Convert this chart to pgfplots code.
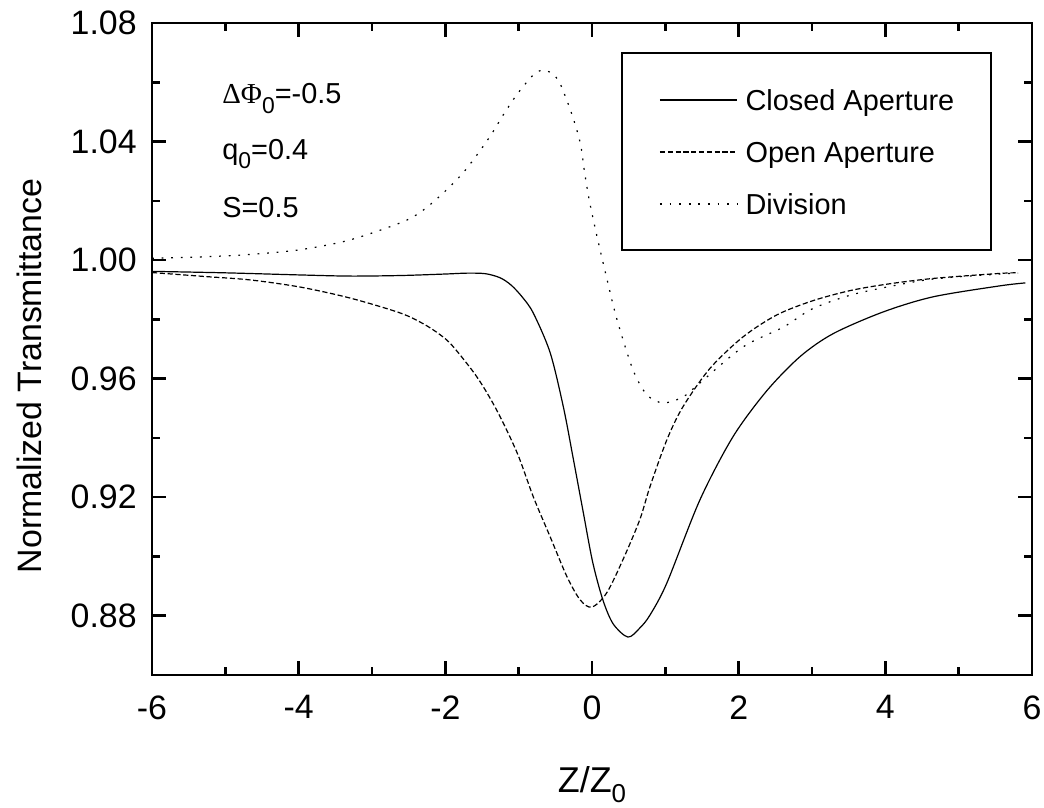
\documentclass[border=0pt]{standalone}
\usepackage{fontspec}
\setmainfont{Liberation Sans}
\newfontfamily\greekfont{Liberation Serif}
\usepackage{pgfplots}
\pgfplotsset{compat=1.18}
\usetikzlibrary{calc}

% Z/Z0 and normalized transmittance
\pgfplotstableread{
x y
-6.00 0.9962
-5.00 0.9957
-4.00 0.9950
-3.30 0.9946
-2.60 0.9948
-2.00 0.9953
-1.70 0.9956
-1.45 0.9954
-1.25 0.9940
-1.10 0.9915
-0.95 0.9875
-0.80 0.9821
-0.57 0.9687
-0.39 0.9504
-0.26 0.9336
-0.12 0.9150
0.01 0.8980
0.15 0.8852
0.29 0.8772
0.49 0.8728
0.65 0.8758
0.79 0.8802
1.02 0.8910
1.47 0.9190
1.92 0.9403
2.38 0.9558
2.84 0.9675
3.29 0.9752
3.97 0.9825
4.65 0.9876
5.56 0.9913
5.91 0.9923
}\closedap

\pgfplotstableread{
x y
-6.00 0.9958
-5.30 0.9945
-4.66 0.9933
-3.98 0.9909
-3.30 0.9872
-2.62 0.9822
-2.30 0.9785
-2.07 0.9748
-1.90 0.9710
-1.57 0.9606
-1.30 0.9494
-1.02 0.9349
-0.80 0.9201
-0.57 0.9066
-0.34 0.8931
-0.16 0.8853
0.00 0.8829
0.20 0.8877
0.42 0.8988
0.65 0.9123
0.79 0.9235
1.02 0.9393
1.24 0.9505
1.61 0.9635
2.06 0.9741
2.52 0.9815
3.00 0.9862
3.50 0.9896
4.00 0.9918
4.65 0.9938
5.56 0.9955
5.81 0.9957
}\openap

\pgfplotstableread{
x y
-6.00 1.0006
-5.30 1.0011
-4.66 1.0019
-3.98 1.0035
-3.30 1.0068
-2.58 1.0129
-2.30 1.0169
-2.03 1.0226
-1.77 1.0291
-1.55 1.0361
-1.36 1.0429
-1.21 1.0490
-1.02 1.0560
-0.80 1.0625
-0.67 1.0641
-0.55 1.0630
-0.44 1.0598
-0.28 1.0496
-0.16 1.0395
-0.10 1.0294
-0.03 1.0193
0.07 1.0078
0.20 0.9940
0.34 0.9800
0.56 0.9629
0.75 0.9545
0.97 0.9518
1.24 0.9538
1.47 0.9585
2.06 0.9707
2.61 0.9774
3.00 0.9835
3.50 0.9880
4.00 0.9908
4.65 0.9936
5.56 0.9953
5.81 0.9956
}\division

\begin{document}
\begin{tikzpicture}
\begin{axis}[
  scale only axis,
  width=440bp, height=326bp,
  xmin=-6, xmax=6, ymin=0.86, ymax=1.08,
  xtick={-6,-4,-2,0,2,4,6},
  xticklabels={-6,-4,-2,0,2,4,6},
  minor x tick num=1,
  ytick={0.88,0.92,0.96,1.00,1.04,1.08},
  yticklabels={0.88,0.92,0.96,1.00,1.04,1.08},
  minor y tick num=1,
  tick align=inside,
  major tick length=6.8bp, minor tick length=3.8bp,
  axis line style={line width=1.3bp},
  every tick/.style={black, line width=1.3bp},
  ticklabel style={font=\fontsize{17}{19}\selectfont},
  xticklabel style={anchor=north, inner sep=0pt, yshift=-10bp},
  yticklabel style={anchor=east, inner sep=0pt, xshift=-7.5bp},
  xlabel={Z/Z\raisebox{-0.28em}{\fontsize{13}{13}\selectfont 0}},
  ylabel={Normalized Transmittance},
  xlabel style={font=\fontsize{18}{20}\selectfont, at={(axis description cs:0.5,0)}, anchor=base, yshift=-58.5bp},
  ylabel style={font=\fontsize{17}{19}\selectfont, at={(axis description cs:0,0.4586)}, anchor=base, yshift=55bp},
  legend style={draw=none, fill=none, at={(rel axis cs:0.5761,0.8021)}, anchor=west,
    inner sep=0pt, row sep=12.5bp, column sep=4bp,
    nodes={inner sep=0pt, font=\fontsize{14.5}{16}\selectfont, text height=12bp, text depth=1.5bp}},
  legend cell align=left,
  legend image code/.code={\draw[#1] (0bp,0bp) -- (38.5bp,0bp);},
]
\addplot[black, line width=0.6bp, smooth] table {\closedap};
\addlegendentry{Closed Aperture}
\addplot[black, line width=0.6bp, smooth, dash pattern=on 2.6bp off 1.3bp] table {\openap};
\addlegendentry{Open Aperture}
\addplot[black, line width=0.6bp, smooth, dash pattern=on 0.9bp off 3.9bp] table {\division};
\addlegendentry{Division}

\draw[line width=0.7bp] (rel axis cs:0.5341,0.6518) rectangle (rel axis cs:0.9534,0.9540);

\node[anchor=base west, font=\fontsize{14.5}{16}\selectfont, inner sep=0pt] at (rel axis cs:0.0795,0.877)
  {{\greekfont ΔΦ}\raisebox{-0.35em}{\fontsize{11.5}{11.5}\selectfont 0}=-0.5};
\node[anchor=base west, font=\fontsize{14.5}{16}\selectfont, inner sep=0pt] at (rel axis cs:0.0795,0.790)
  {q\raisebox{-0.3em}{\fontsize{11.5}{11.5}\selectfont 0}=0.4};
\node[anchor=base west, font=\fontsize{14.5}{16}\selectfont, inner sep=0pt] at (rel axis cs:0.0795,0.701)
  {S=0.5};

\coordinate (bl) at (rel axis cs:0,0);
\coordinate (tr) at (rel axis cs:1,1);
\end{axis}
\pgfresetboundingbox
\path[use as bounding box] ($(bl)+(-76bp,-66.5bp)$) rectangle ($(tr)+(6bp,11.5bp)$);
\end{tikzpicture}
\end{document}
